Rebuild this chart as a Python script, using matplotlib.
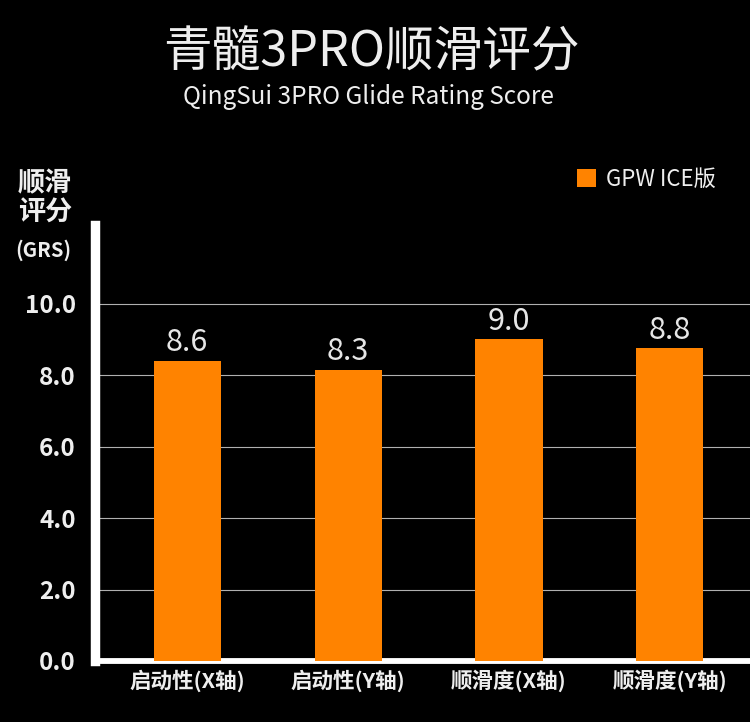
import matplotlib
matplotlib.use("Agg")
import matplotlib.pyplot as plt
import numpy as np

plt.rcParams['font.family'] = ['Noto Sans CJK SC', 'DejaVu Sans']

# 数据
categories = ["启动性(X轴)", "启动性(Y轴)", "顺滑度(X轴)", "顺滑度(Y轴)"]
bar_values = [8.4, 8.15, 9.0, 8.75]
value_labels = ["8.6", "8.3", "9.0", "8.8"]
y_ticks = [0.0, 2.0, 4.0, 6.0, 8.0, 10.0]
series_name = "GPW ICE版"

ORANGE = "#ff8300"
TEXT = "#eeeeee"

fig = plt.figure(figsize=(7.5, 7.22), dpi=100, facecolor="black")
ax = fig.add_axes([0.127, 0.0845, 0.873, 0.6039], facecolor="black")

x = np.arange(len(categories))
bars = ax.bar(x, bar_values, width=0.417, color=ORANGE, zorder=3, label=series_name)

for b, lab in zip(bars, value_labels):
    ax.annotate(lab, (b.get_x() + b.get_width() / 2, b.get_height()),
                xytext=(0, 7), textcoords="offset points",
                ha="center", va="baseline", fontsize=22, color="#e6e6e6")

ax.set_xlim(-0.572, 3.498)
ax.set_ylim(0, 12.2)
ax.set_yticks(y_ticks)
ax.set_yticklabels([f"{v:.1f}" for v in y_ticks], fontsize=17.5, color=TEXT, fontweight="bold")
ax.set_xticks(x)
ax.set_xticklabels(categories, fontsize=15.5, color=TEXT, fontweight="bold")
ax.tick_params(axis="y", length=0, pad=14)
ax.tick_params(axis="x", length=0, pad=6)

ax.yaxis.grid(True, color="#b0b0b0", linewidth=0.8, zorder=0)
ax.set_axisbelow(True)

for side in ["top", "right"]:
    ax.spines[side].set_visible(False)
ax.spines["left"].set_color("white")
ax.spines["left"].set_linewidth(6.8)
ax.spines["bottom"].set_color("white")
ax.spines["bottom"].set_linewidth(4.2)
ax.spines["left"].set_capstyle("projecting")
ax.spines["bottom"].set_capstyle("projecting")

# y 轴标题
fig.text(45 / 750, 1 - 183 / 722, "顺滑", ha="center", va="center",
         fontsize=19.5, color=TEXT, fontweight="bold")
fig.text(45 / 750, 1 - 213 / 722, "评分", ha="center", va="center",
         fontsize=19.5, color=TEXT, fontweight="bold")
fig.text(43 / 750, 1 - 250 / 722, "(GRS)", ha="center", va="center",
         fontsize=14.5, color=TEXT, fontweight="bold")

# 标题
fig.text(0.495, 1 - 53 / 722, "青髓3PRO顺滑评分", ha="center", va="center",
         fontsize=35, color=TEXT)
fig.text(0.491, 1 - 97 / 722, "QingSui 3PRO Glide Rating Score", ha="center", va="center",
         fontsize=17.5, color=TEXT)

leg = fig.legend(handles=[bars], labels=[series_name], loc="center left",
                 bbox_to_anchor=(577 / 750, 1 - 179 / 722), frameon=False,
                 fontsize=16, handlelength=0.85, handleheight=0.85, handletextpad=0.45,
                 borderaxespad=0, borderpad=0)
for t in leg.get_texts():
    t.set_color(TEXT)

fig.savefig("out.png", dpi=100, facecolor="black")
